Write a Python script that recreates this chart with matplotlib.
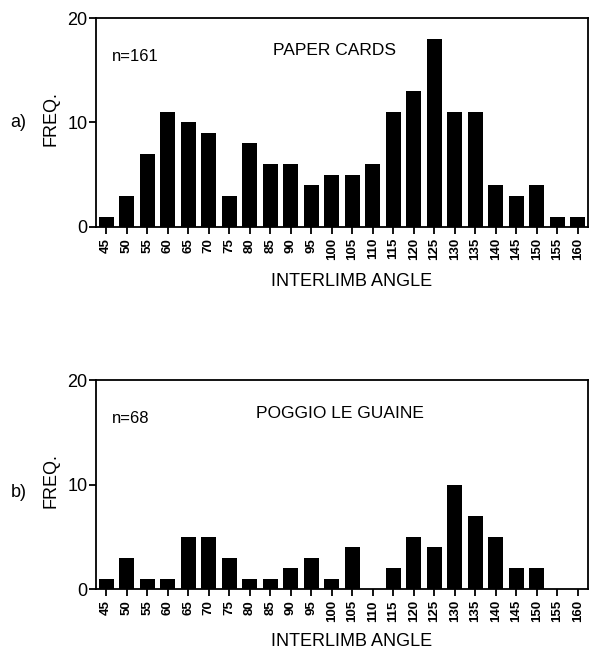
import numpy as np
import matplotlib.pyplot as plt

plt.rcParams['font.family'] = ['Liberation Sans', 'DejaVu Sans']

angles = [45, 50, 55, 60, 65, 70, 75, 80, 85, 90, 95, 100, 105, 110,
          115, 120, 125, 130, 135, 140, 145, 150, 155, 160]
freq_paper = [1, 3, 7, 11, 10, 9, 3, 8, 6, 6, 4, 5, 5, 6,
              11, 13, 18, 11, 11, 4, 3, 4, 1, 1]
freq_poggio = [1, 3, 1, 1, 5, 5, 3, 1, 1, 2, 3, 1, 4, 0,
               2, 5, 4, 10, 7, 5, 2, 2, 0, 0]

fig = plt.figure(figsize=(5.91, 6.5), dpi=100)

# bottom, data, n label, title, panel letter, letter y (fig), title y, xlabel y, title x
panels = [
    (0.6508, freq_paper, "n=161", "PAPER CARDS", "a)", 0.811, 0.843, -0.22, 0.484),
    (0.0938, freq_poggio, "n=68", "POGGIO LE GUAINE", "b)", 0.242, 0.842, -0.21, 0.496),
]

for bottom, freq, ntext, title, letter, ly, ty, xly, tx in panels:
    ax = fig.add_axes([0.1624, bottom, 0.8325, 0.3215])
    x = np.arange(len(angles))
    ax.bar(x, freq, width=0.73, color="black")
    ax.set_xlim(-0.49, 23.49)
    ax.set_ylim(0, 20)
    ax.set_yticks([0, 10, 20])
    ax.set_xticks(x)
    ax.set_xticklabels([str(a) for a in angles], rotation=90, fontsize=9.5, fontweight="bold")
    ax.tick_params(axis="y", labelsize=13, length=5, width=1.3, pad=1)
    ax.tick_params(axis="x", length=5, width=1.3, pad=3)
    for s in ax.spines.values():
        s.set_linewidth(1.3)
    ax.set_ylabel("FREQ.", fontsize=13)
    ax.yaxis.set_label_coords(-0.074, 0.52)
    ax.set_xlabel("INTERLIMB ANGLE", fontsize=13)
    ax.xaxis.set_label_coords(0.52, xly)
    ax.text(0.032, 0.818, ntext, transform=ax.transAxes, fontsize=12, ha="left", va="center")
    ax.text(tx, ty, title, transform=ax.transAxes, fontsize=12.5, ha="center", va="center")
    fig.text(0.031, ly, letter, fontsize=13, ha="center", va="center")

fig.savefig("out.png", dpi=100)
